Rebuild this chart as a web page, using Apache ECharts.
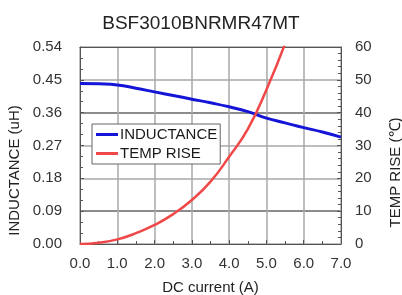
<!DOCTYPE html>
<html>
<head>
<meta charset="utf-8">
<script src="https://cdn.jsdelivr.net/npm/echarts@6/dist/echarts.min.js"></script>
<style>
  html, body { margin: 0; padding: 0; background: #fff; }
  #chart { width: 402px; height: 295px; }
</style>
</head>
<body>
<div id="chart"></div>
<script>
// DC current (A) sample points
const currents = [0, 0.5, 1, 1.5, 2, 2.5, 3, 3.5, 4, 4.5, 5, 5.5, 6, 6.5, 7];
// inductance (uH), left axis
const inductance = [0.44, 0.439, 0.436, 0.427, 0.417, 0.407, 0.397, 0.387, 0.376, 0.363, 0.345, 0.332, 0.319, 0.307, 0.293];
// temperature rise (℃), right axis, runs off the top after 5.5 A
const tempRise = [0, 0.4, 1.4, 3.3, 5.8, 9.1, 13.4, 19, 26.6, 35, 47, 61];

const font = 'Liberation Sans, Arial, sans-serif';
const axisColor = '#555';

const chart = echarts.init(document.getElementById('chart'));
chart.setOption({
  animation: false,
  title: {
    text: 'BSF3010BNRMR47MT',
    left: 'center',
    top: 9,
    textStyle: { fontFamily: font, fontSize: 19, fontWeight: 'normal', color: '#222' },
  },
  grid: {
    left: 80,
    right: 61,
    top: 47,
    bottom: 51,
    outerBoundsMode: 'none',
  },
  legend: {
    orient: 'vertical',
    left: 92,
    top: 124,
    itemWidth: 22,
    itemHeight: 3,
    itemGap: 4,
    padding: [3, 3, 3, 4],
    backgroundColor: '#fff',
    borderColor: '#666',
    borderWidth: 1,
    icon: 'rect',
    textStyle: { fontFamily: font, fontSize: 15, color: '#1a1a1a', padding: [0, 0, 0, -3] },
    data: ['INDUCTANCE', 'TEMP RISE'],
  },
  xAxis: [
    {
      type: 'value',
      min: 0,
      max: 7,
      interval: 1,
      name: 'DC current (A)',
      nameLocation: 'middle',
      nameGap: 36,
      nameTextStyle: { fontFamily: font, fontSize: 15, color: '#222' },
      axisLine: { show: true, onZero: false, lineStyle: { color: axisColor } },
      axisTick: { show: true, inside: true, length: 4, lineStyle: { color: axisColor } },
      minorTick: { show: true, splitNumber: 2, length: 3, lineStyle: { color: axisColor } },
      axisLabel: {
        fontFamily: font, fontSize: 15, color: '#333', margin: 12,
        formatter: (v) => v.toFixed(1),
      },
      splitLine: { show: true, lineStyle: { color: '#a8a8a8', width: 1.5 } },
    },
    {
      // top frame edge only
      type: 'value',
      position: 'top',
      min: 0,
      max: 7,
      interval: 1,
      axisLine: { show: true, onZero: false, lineStyle: { color: axisColor } },
      axisTick: { show: false },
      axisLabel: { show: false },
      splitLine: { show: false },
    },
  ],
  yAxis: [
    {
      type: 'value',
      min: 0,
      max: 0.54,
      interval: 0.09,
      name: 'INDUCTANCE (uH)',
      nameLocation: 'middle',
      nameGap: 58,
      nameTextStyle: { fontFamily: font, fontSize: 15, color: '#222', padding: [0, 50, 0, 0] },
      axisLine: { show: true, onZero: false, lineStyle: { color: axisColor } },
      axisTick: { show: true, inside: true, length: 4, lineStyle: { color: axisColor } },
      minorTick: { show: true, splitNumber: 3, length: 3, lineStyle: { color: axisColor } },
      axisLabel: {
        fontFamily: font, fontSize: 15, color: '#333', margin: 18,
        formatter: (v) => v.toFixed(2),
      },
      splitLine: {
        show: true,
        lineStyle: { color: ['#a8a8a8', '#666666', '#a8a8a8'], width: 1.5 },
      },
    },
    {
      type: 'value',
      min: 0,
      max: 60,
      interval: 10,
      position: 'right',
      name: 'TEMP RISE (℃)',
      nameLocation: 'middle',
      nameGap: 47,
      nameTextStyle: { fontFamily: font, fontSize: 15, color: '#222', padding: [0, 54, 0, 0] },
      axisLine: { show: true, onZero: false, lineStyle: { color: axisColor } },
      axisTick: { show: true, inside: true, length: 4, lineStyle: { color: axisColor } },
      minorTick: { show: true, splitNumber: 5, length: 3, lineStyle: { color: axisColor } },
      axisLabel: { fontFamily: font, fontSize: 15, color: '#333', margin: 14 },
      splitLine: { show: false },
    },
  ],
  series: [
    {
      name: 'INDUCTANCE',
      type: 'line',
      yAxisIndex: 0,
      smooth: true,
      showSymbol: false,
      color: '#1515d8',
      lineStyle: { width: 3 },
      data: currents.map((x, i) => [x, inductance[i]]),
    },
    {
      name: 'TEMP RISE',
      type: 'line',
      yAxisIndex: 1,
      smooth: true,
      showSymbol: false,
      color: '#f04848',
      lineStyle: { width: 2.5 },
      data: tempRise.map((t, i) => [currents[i], t]),
    },
  ],
});
</script>
</body>
</html>
